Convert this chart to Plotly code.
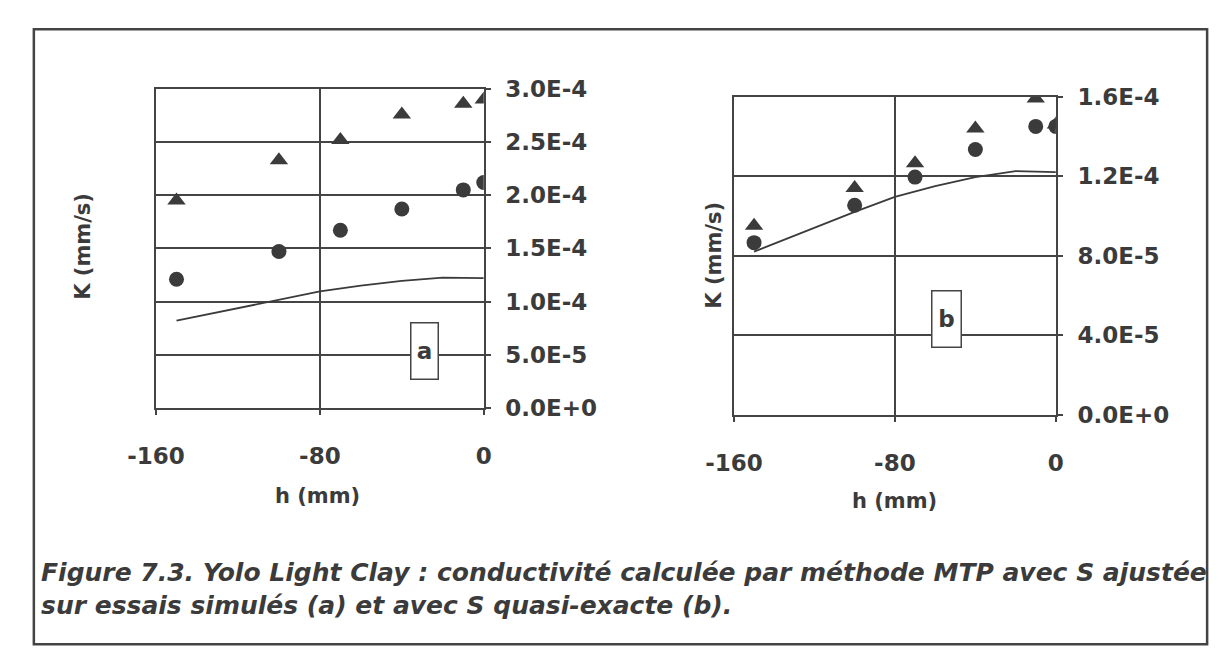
import plotly.graph_objects as go

# points mesures / simules (h en mm, K en mm/s)
h_pts = [-150, -100, -70, -40, -10, 0]
Ka_tri = [1.95e-4, 2.33e-4, 2.52e-4, 2.76e-4, 2.86e-4, 2.90e-4]
Ka_circ = [1.21e-4, 1.47e-4, 1.67e-4, 1.87e-4, 2.05e-4, 2.12e-4]
Kb_tri = [9.5e-5, 1.14e-4, 1.265e-4, 1.44e-4, 1.59e-4, 1.46e-4]
Kb_circ = [8.65e-5, 1.053e-4, 1.195e-4, 1.334e-4, 1.45e-4, 1.45e-4]

# courbe continue (conductivite exacte)
h_line = [-150, -100, -80, -60, -40, -20, 0]
K_line = [8.2e-5, 1.02e-4, 1.095e-4, 1.15e-4, 1.195e-4, 1.225e-4, 1.22e-4]

# ticks
x_ticks = [-160, -80, 0]
x_ticktext = ["-160", "-80", "0"]
ya_ticks = [0, 5e-5, 1e-4, 1.5e-4, 2e-4, 2.5e-4, 3e-4]
ya_ticktext = ["0.0E+0", "5.0E-5", "1.0E-4", "1.5E-4", "2.0E-4", "2.5E-4", "3.0E-4"]
yb_ticks = [0, 4e-5, 8e-5, 1.2e-4, 1.6e-4]
yb_ticktext = ["0.0E+0", "4.0E-5", "8.0E-5", "1.2E-4", "1.6E-4"]

caption = ("Figure 7.3. Yolo Light Clay : conductivité calculée par méthode MTP avec S ajustée<br>"
           "sur essais simulés (a) et avec S quasi-exacte (b).")

W, H = 1219, 662
ink = "#3b3b3b"
FONT = "DejaVu Sans"

fig = go.Figure()

for xa, ya, ktri, kcirc in [("x", "y", Ka_tri, Ka_circ), ("x2", "y2", Kb_tri, Kb_circ)]:
    fig.add_trace(go.Scatter(x=h_line, y=K_line, mode="lines", line=dict(color=ink, width=1.8),
                             xaxis=xa, yaxis=ya, showlegend=False))
    fig.add_trace(go.Scatter(x=h_pts, y=kcirc, mode="markers", marker=dict(symbol="circle", size=15, color=ink),
                             xaxis=xa, yaxis=ya, showlegend=False))
    fig.add_trace(go.Scatter(x=h_pts, y=ktri, mode="markers", marker=dict(symbol="triangle-up", size=16, color=ink),
                             xaxis=xa, yaxis=ya, showlegend=False))


def px_x(p):
    return p / W


def px_y(p):
    return 1 - p / H


tickfont = dict(family=FONT, size=23, color=ink, weight="bold")
common = dict(showgrid=True, gridcolor="#444444", gridwidth=2, showline=True, linecolor="#444444",
              linewidth=2, mirror=True, ticks="outside", ticklen=5, tickwidth=2, tickcolor="#444444",
              zeroline=False, tickfont=tickfont, tickmode="array")

fig.update_layout(
    width=W, height=H, margin=dict(l=0, r=0, t=0, b=0), autosize=False,
    paper_bgcolor="white", plot_bgcolor="white",
    xaxis=dict(domain=[px_x(131), px_x(469)], range=[-160, 0], tickvals=x_ticks, ticktext=x_ticktext,
               anchor="y", ticklabelstandoff=22, **common),
    yaxis=dict(domain=[px_y(411), px_y(79)], range=[0, 3e-4], tickvals=ya_ticks, ticktext=ya_ticktext,
               side="right", anchor="x", ticklabelstandoff=10, **common),
    xaxis2=dict(domain=[px_x(727), px_x(1059)], range=[-160, 0], tickvals=x_ticks, ticktext=x_ticktext,
                anchor="y2", ticklabelstandoff=22, **common),
    yaxis2=dict(domain=[px_y(418), px_y(87)], range=[0, 1.6e-4], tickvals=yb_ticks, ticktext=yb_ticktext,
                side="right", anchor="x2", ticklabelstandoff=10, **common),
)

titlefont = dict(family=FONT, size=21, color=ink, weight="bold")
ann = [
    dict(text="h (mm)", x=px_x(298), y=px_y(503), font=titlefont),
    dict(text="h (mm)", x=px_x(893), y=px_y(508), font=titlefont),
    dict(text="K (mm/s)", x=px_x(56), y=px_y(243), textangle=-90, font=titlefont),
    dict(text="K (mm/s)", x=px_x(707), y=px_y(252), textangle=-90, font=titlefont),
]
for a in ann:
    fig.add_annotation(xref="paper", yref="paper", showarrow=False, xanchor="center", yanchor="middle", **a)

# etiquettes encadrees a / b
boxfont = dict(family=FONT, size=23, color=ink, weight="bold")
fig.add_annotation(xref="paper", yref="paper", x=px_x(393), y=px_y(352), text="a", showarrow=False,
                   width=24, height=53, bgcolor="white", bordercolor="#444444", borderwidth=1.5, font=boxfont)
fig.add_annotation(xref="paper", yref="paper", x=px_x(962), y=px_y(318), text="b", showarrow=False,
                   width=26, height=53, bgcolor="white", bordercolor="#444444", borderwidth=1.5, font=boxfont)

# legende de la figure
capfont = dict(family=FONT, size=25, color=ink, weight="bold", style="italic")
fig.add_annotation(xref="paper", yref="paper", x=px_x(10), y=px_y(600), xanchor="left", yanchor="middle",
                   align="left", showarrow=False, font=capfont, text=caption)

# cadre exterieur
fig.add_shape(type="rect", xref="paper", yref="paper", x0=px_x(5), x1=px_x(1215), y0=px_y(657), y1=px_y(17),
              line=dict(color="#444444", width=2.5))

# page sans marge pour que le graphique commence au coin (0, 0), sans barre d'outils
fig.write_html("out.html", config={"displayModeBar": False},
               post_script="document.body.style.margin='0';")
